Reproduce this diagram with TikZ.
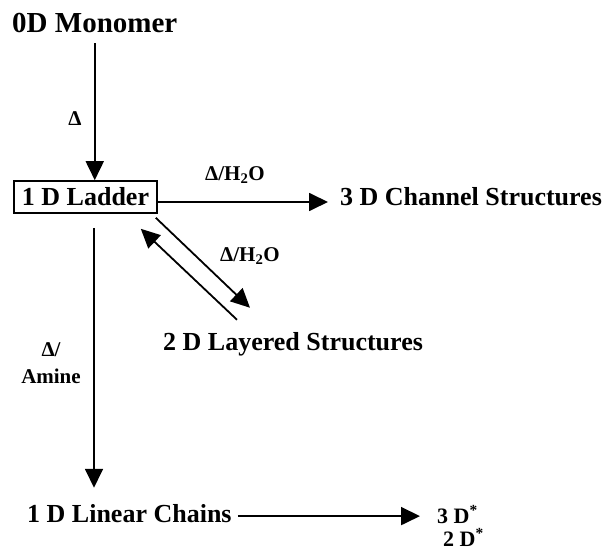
\documentclass[tikz,border=0pt]{standalone}
\usepackage{fontspec}
\setmainfont{Liberation Serif}
\usetikzlibrary{arrows.meta}

\begin{document}
\begin{tikzpicture}[
  x=1pt, y=-1pt,
  phase/.style={font=\bfseries\fontsize{26}{31}\selectfont, inner sep=0pt, anchor=base west},
  smallphase/.style={phase, font=\bfseries\fontsize{22}{26}\selectfont},
  cond/.style={font=\bfseries\fontsize{21}{27}\selectfont, inner sep=0pt, align=center},
  react/.style={-{Triangle[length=19pt,width=18pt]}, line width=1.8pt},
]
\useasboundingbox (0,0) rectangle (605,553);

% Structures.
\node[phase, font=\bfseries\fontsize{29}{34}\selectfont] (mono) at (12,33) {0D Monomer};
\node[draw, line width=1.6pt, font=\bfseries\fontsize{26}{31}\selectfont,
      minimum width=143pt, minimum height=32pt, inner sep=0pt] (ladder) at (85.5,197) {1 D Ladder};
\node[phase] (channel) at (340,206) {3 D Channel Structures};
\node[phase] (layered) at (163,350) {2 D Layered Structures};
\node[phase] (linear) at (27,522) {1 D Linear Chains};
\node[smallphase] (three) at (437,523) {3 D\textsuperscript{*}};
\node[smallphase] (two) at (443,546) {2 D\textsuperscript{*}};

% Reaction conditions.
\node[cond] (heat) at (75,119) {Δ};
\node[cond] (wetA) at (235,175) {Δ/H\textsubscript{2}O};
\node[cond] (wetB) at (250,256) {Δ/H\textsubscript{2}O};
\node[cond] (amine) at (51,363) {Δ/\\Amine};

% Transformations.
\draw[react, shorten <=10pt] (mono.south) -- (mono.south |- ladder.north);
\draw[react, shorten >=12pt] ([yshift=-5pt]ladder.east) -- ([yshift=-5pt]ladder.east -| channel.west);
\draw[react] ([shift={(-2,4)}]ladder.south east) -- ([shift={(87,-24)}]layered.north west);
\draw[react] ([shift={(74,-12)}]layered.north west) -- ([shift={(-17,15)}]ladder.south east);
\draw[react, shorten <=14pt, shorten >=16pt] ([xshift=8.5pt]ladder.south) -- ([xshift=8.5pt]ladder.south |- linear.north);
\draw[react, shorten <=6pt, shorten >=17pt] ([yshift=-3pt]linear.east) -- ([yshift=-3pt]linear.east -| three.west);

\end{tikzpicture}
\end{document}
